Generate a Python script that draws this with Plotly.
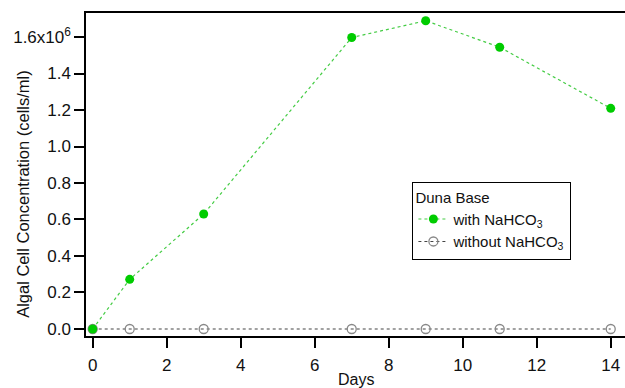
import plotly.graph_objects as go

days = [0, 1, 3, 7, 9, 11, 14]
with_nahco3 = [0.0, 272000, 630000, 1597000, 1689000, 1544000, 1209000]
without_nahco3 = [0.0, 0.0, 0.0, 0.0, 0.0, 0.0, 0.0]

y_tickvals = [0, 200000, 400000, 600000, 800000, 1000000, 1200000, 1400000, 1600000]
y_ticktext = ["0.0", "0.2", "0.4", "0.6", "0.8", "1.0", "1.2", "1.4", "1.6x10<sup>6</sup>"]
x_tickvals = [0, 2, 4, 6, 8, 10, 12, 14]

fig = go.Figure()
fig.add_trace(go.Scatter(
    x=days, y=without_nahco3, mode="lines+markers",
    name="without NaHCO<sub>3</sub>",
    line=dict(color="#444444", dash="dot", width=1.2),
    marker=dict(symbol="circle-open", size=9, color="#888888", line=dict(width=1.3)),
))
fig.add_trace(go.Scatter(
    x=days, y=with_nahco3, mode="lines+markers",
    name="with NaHCO<sub>3</sub>",
    line=dict(color="#44cc44", dash="dot", width=1.2),
    marker=dict(symbol="circle", size=9, color="#00cc00"),
))

font = dict(family="Liberation Sans, Arial, sans-serif", size=17, color="#111111")
fig.update_layout(
    width=625, height=388,
    margin=dict(l=86, r=0, t=13, b=52, autoexpand=False),
    paper_bgcolor="white", plot_bgcolor="white",
    font=font,
    showlegend=True,
    legend=dict(
        title=dict(text="Duna Base", font=dict(size=15)),
        font=dict(size=15),
        x=0.605, y=0.477, xanchor="left", yanchor="top",
        bordercolor="black", borderwidth=1.3, bgcolor="white",
        traceorder="reversed", tracegroupgap=0,
        itemwidth=30,
    ),
    xaxis=dict(
        range=[-0.181, 14.386], tickvals=x_tickvals,
        showline=True, linecolor="black", linewidth=1.5, mirror=True,
        ticks="outside", ticklen=10, tickwidth=1.5, tickcolor="black",
        showgrid=False, zeroline=False, automargin=False,
        ticklabelstandoff=3,
    ),
    yaxis=dict(
        range=[-38400, 1731500], tickvals=y_tickvals, ticktext=y_ticktext,
        showline=True, linecolor="black", linewidth=1.5,
        ticks="outside", ticklen=10, tickwidth=1.5, tickcolor="black",
        showgrid=False, zeroline=False, automargin=False,
    ),
    annotations=[
        dict(text="Days", xref="paper", yref="paper", x=0.5, y=-0.135,
             xanchor="center", yanchor="middle", showarrow=False,
             font=dict(size=16)),
        dict(text="Algal Cell Concentration (cells/ml)", xref="paper", yref="paper",
             x=-0.117, y=0.44, xanchor="center", yanchor="middle", textangle=-90,
             showarrow=False, font=dict(size=16.5)),
    ],
)

fig.write_html("out.html", post_script="document.body.style.margin='0';",
               config={"displayModeBar": False})
